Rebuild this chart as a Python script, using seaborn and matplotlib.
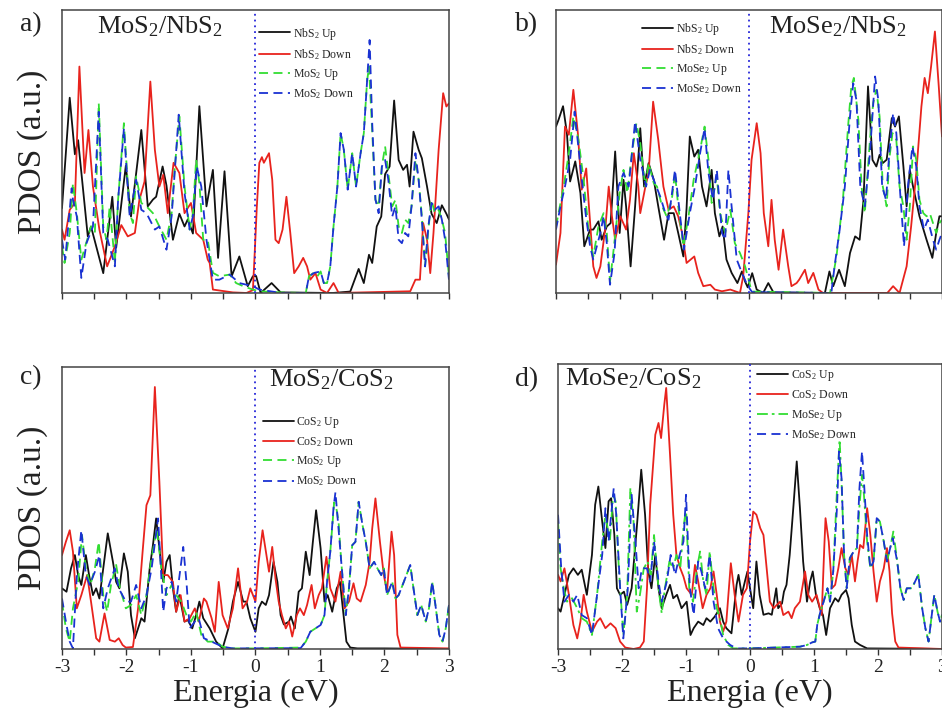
import matplotlib
matplotlib.use('Agg')
import matplotlib.pyplot as plt
import seaborn as sns
import pandas as pd

sns.set_theme(style='ticks')
plt.rcParams['font.family'] = ['Liberation Serif', 'DejaVu Serif']
plt.rcParams['mathtext.fontset'] = 'custom'
plt.rcParams['mathtext.rm'] = 'Liberation Serif'
plt.rcParams['mathtext.it'] = 'Liberation Serif:italic'
plt.rcParams['mathtext.bf'] = 'Liberation Serif:bold'
plt.rcParams['axes.unicode_minus'] = False

# ---------------- data: (energy eV, PDOS in % of panel height) ----------------
# Panel a) MoS2/NbS2
a_nbs2_up = [(-3.00, 30), (-2.88, 69), (-2.80, 49), (-2.75, 54), (-2.60, 20), (-2.55, 23.5), (-2.36, 7),
             (-2.22, 34), (-2.16, 16), (-2.01, 45), (-1.93, 27), (-1.77, 57.6), (-1.67, 30.6), (-1.59, 33),
             (-1.54, 34), (-1.44, 44.7), (-1.38, 38), (-1.28, 18.8), (-1.18, 28), (-1.10, 23.5), (-1.05, 26),
             (-0.97, 21), (-0.87, 66), (-0.76, 30.6), (-0.66, 43.5), (-0.58, 12.4), (-0.48, 43), (-0.37, 5.9),
             (-0.25, 12.9), (-0.12, 2.4), (-0.04, 5.9), (0.01, 6), (0.08, 0), (0.25, 3.5), (0.39, 0.2),
             (1.20, 0), (1.47, 0.5), (1.60, 8.5), (1.68, 3.5), (1.76, 13.5), (1.81, 10.6), (1.88, 23.5),
             (1.95, 27), (2.01, 42), (2.08, 44.7), (2.15, 68), (2.22, 47), (2.29, 43.5), (2.35, 45.3),
             (2.39, 37.6), (2.45, 57), (2.53, 50.6), (2.58, 47.6), (2.66, 37.6), (2.73, 28), (2.81, 24.7),
             (2.89, 31), (2.96, 28), (3.00, 26)]
a_nbs2_down = [(-3.00, 22.4), (-2.96, 18.8), (-2.88, 29.4), (-2.80, 31.8), (-2.73, 80), (-2.65, 42.4),
               (-2.59, 57.6), (-2.52, 37.6), (-2.42, 22.4), (-2.30, 9.4), (-2.18, 16.5), (-2.08, 24), (-1.98, 20),
               (-1.87, 21.2), (-1.80, 32.9), (-1.72, 39.4), (-1.63, 74.7), (-1.56, 50.6), (-1.49, 37.6),
               (-1.43, 41.8), (-1.36, 28.2), (-1.27, 46), (-1.18, 42.4), (-1.10, 28.2), (-1.00, 31.8),
               (-0.92, 21.2), (-0.81, 18.8), (-0.74, 11.8), (-0.71, 10.6), (-0.66, 1.2), (-0.35, 0.2),
               (-0.14, 0), (-0.04, 1), (-0.01, 15), (0.02, 30), (0.06, 46), (0.10, 48), (0.13, 46),
               (0.21, 49.4), (0.26, 40), (0.31, 18.8), (0.36, 17.6), (0.42, 22.4), (0.48, 34), (0.54, 21.2),
               (0.60, 7), (0.67, 9.4), (0.74, 12.4), (0.80, 9.4), (0.85, 4.7), (0.93, 7), (1.01, 1.2), (1.11, 0),
               (1.21, 3.5), (1.29, 0), (2.40, 0.6), (2.48, 4.7), (2.55, 4.7), (2.60, 24.7), (2.66, 18.8),
               (2.71, 7), (2.76, 21.2), (2.84, 50.6), (2.91, 70.6), (2.96, 65.9), (3.00, 67)]
a_mos2_up = [(-3.00, 16.5), (-2.96, 10.6), (-2.88, 21.2), (-2.83, 38.8), (-2.77, 28.2), (-2.70, 11.8),
             (-2.61, 18.8), (-2.55, 23.5), (-2.49, 21.2), (-2.43, 67.1), (-2.36, 23.5), (-2.31, 18.8),
             (-2.26, 30.6), (-2.18, 10.6), (-2.13, 32.9), (-2.04, 60), (-1.95, 28.2), (-1.90, 24.7),
             (-1.85, 41.2), (-1.77, 31.8), (-1.69, 30.6), (-1.59, 28.2), (-1.49, 23.5), (-1.38, 18.8),
             (-1.30, 28.2), (-1.25, 44.7), (-1.18, 62.4), (-1.10, 37.6), (-1.02, 22.4), (-0.97, 28.2),
             (-0.92, 47.1), (-0.87, 38.8), (-0.81, 18.8), (-0.74, 18.8), (-0.66, 7.1), (-0.56, 5.9),
             (-0.40, 6.5), (-0.30, 3.5), (-0.19, 2.4), (-0.04, 1.2), (0.06, 0.6), (0.40, 0.2), (0.78, 0),
             (0.83, 5.9), (0.90, 7.1), (0.96, 5.9), (1.01, 7.6), (1.06, 3.5), (1.11, 3.5), (1.16, 9.4),
             (1.21, 23.5), (1.27, 37.6), (1.32, 56.5), (1.37, 50.6), (1.43, 36.5), (1.50, 49.4), (1.56, 37.6),
             (1.63, 49.4), (1.68, 56.5), (1.73, 74.7), (1.76, 80), (1.81, 57.1), (1.86, 32.9), (1.91, 30.6),
             (1.96, 44.7), (2.01, 51.8), (2.06, 42.4), (2.12, 30.6), (2.17, 32.9), (2.22, 23.5), (2.27, 21.2),
             (2.32, 25.9), (2.37, 24.7), (2.42, 30.6), (2.48, 47.1), (2.53, 40), (2.58, 27.1), (2.63, 9.4),
             (2.68, 22.4), (2.73, 32.9), (2.78, 28.2), (2.84, 29.4), (2.89, 25.9), (2.94, 21.2), (3.00, 5.9)]
a_mos2_down = [(-3.00, 18.8), (-2.95, 11.8), (-2.85, 37), (-2.83, 33), (-2.77, 27), (-2.70, 5.3),
               (-2.62, 17.6), (-2.52, 23.5), (-2.43, 64), (-2.36, 21.2), (-2.29, 18.8), (-2.18, 9.4),
               (-2.13, 32.9), (-2.04, 58), (-1.95, 27.1), (-1.85, 40), (-1.77, 29.4), (-1.69, 28.2),
               (-1.56, 22.4), (-1.49, 23.5), (-1.38, 15.3), (-1.30, 27.1), (-1.19, 63), (-1.10, 35.3),
               (-1.02, 22.4), (-0.97, 27.1), (-0.91, 44.7), (-0.84, 37.6), (-0.76, 18.8), (-0.66, 4.7),
               (-0.56, 4.7), (-0.40, 6.5), (-0.25, 3.5), (-0.04, 2.4), (0.06, 1.2), (0.40, 0), (0.78, 0),
               (0.83, 5.9), (0.91, 7.1), (1.01, 7.6), (1.06, 3.5), (1.11, 3.5), (1.16, 9.4), (1.21, 23.5),
               (1.27, 37.6), (1.32, 56.5), (1.37, 50.6), (1.43, 36.5), (1.50, 49.4), (1.56, 37.6), (1.63, 49.4),
               (1.68, 56.5), (1.73, 74.7), (1.77, 89.4), (1.81, 60), (1.86, 33), (1.91, 28.2), (1.96, 44.7),
               (2.01, 47), (2.06, 40), (2.12, 27), (2.17, 30.6), (2.22, 18.8), (2.27, 17.6), (2.32, 21.2),
               (2.37, 20), (2.42, 30.6), (2.48, 49.4), (2.53, 40), (2.58, 25.9), (2.63, 9.4), (2.68, 23.5),
               (2.73, 31.8), (2.78, 29.4), (2.84, 30.6), (2.89, 25.9), (2.94, 18.8), (3.00, 4.7)]

# Panel b) MoSe2/NbS2
b_nbs2_up = [(-3.00, 58.8), (-2.96, 61.2), (-2.89, 66), (-2.83, 56.5), (-2.78, 39.4), (-2.70, 46.5),
             (-2.62, 35.3), (-2.56, 16.5), (-2.47, 22.4), (-2.42, 22.4), (-2.34, 25.3), (-2.29, 18.8),
             (-2.21, 23.5), (-2.15, 24.7), (-2.08, 50), (-2.01, 21.2), (-1.95, 40), (-1.91, 30.6), (-1.84, 9.4),
             (-1.77, 30.6), (-1.69, 58.2), (-1.63, 37.6), (-1.56, 45.9), (-1.48, 40), (-1.41, 30.6),
             (-1.32, 18.8), (-1.25, 28.2), (-1.17, 28.2), (-1.10, 21.2), (-1.02, 12.9), (-0.97, 30),
             (-0.92, 55.3), (-0.85, 48.2), (-0.79, 50.6), (-0.73, 37.6), (-0.66, 30.6), (-0.58, 43.5),
             (-0.53, 28.2), (-0.46, 20), (-0.41, 23.5), (-0.35, 11.8), (-0.27, 7.1), (-0.18, 3.5),
             (-0.11, 7.6), (-0.06, 4), (-0.02, 2), (0.05, 7), (0.12, 1.2), (0.22, 0), (0.30, 3.5), (0.38, 0.2),
             (1.18, 0), (1.25, 7.6), (1.31, 2.4), (1.40, 8.2), (1.49, 2.4), (1.57, 14.1), (1.65, 20),
             (1.72, 18.8), (1.78, 32.9), (1.85, 73), (1.92, 47), (1.98, 44.7), (2.03, 48.8), (2.08, 45.9),
             (2.14, 47.1), (2.19, 56.5), (2.22, 61.8), (2.27, 58.8), (2.33, 62.4), (2.40, 44.7), (2.45, 30.6),
             (2.50, 43.5), (2.55, 37.6), (2.65, 27.1), (2.76, 18.8), (2.85, 12.4), (2.91, 21.2), (2.96, 27.1),
             (3.00, 27.1)]
b_nbs2_down = [(-3.00, 10), (-2.93, 21.2), (-2.86, 58.8), (-2.80, 55.9), (-2.73, 71.8), (-2.66, 56.5),
               (-2.60, 36.5), (-2.53, 44), (-2.48, 28.2), (-2.42, 9.4), (-2.37, 5.3), (-2.31, 9.4), (-2.23, 23.5),
               (-2.18, 37.6), (-2.13, 27.1), (-2.08, 18.8), (-2.00, 27.1), (-1.91, 22.4), (-1.85, 32.9),
               (-1.79, 49.4), (-1.72, 37.6), (-1.69, 28.2), (-1.61, 37.6), (-1.56, 42.4), (-1.49, 67.6),
               (-1.41, 54.1), (-1.33, 37.6), (-1.25, 29.4), (-1.17, 30.6), (-1.10, 27.1), (-1.04, 21.2),
               (-0.97, 10.6), (-0.85, 12.9), (-0.79, 7.1), (-0.71, 2.4), (-0.60, 2.9), (-0.53, 1.2),
               (-0.42, 0.6), (-0.29, 1.2), (-0.14, 0), (-0.09, 5.9), (-0.01, 28.2), (0.04, 47.1), (0.12, 60),
               (0.18, 49.4), (0.23, 28.2), (0.30, 16.5), (0.35, 32.9), (0.40, 18.8), (0.46, 8.2), (0.53, 22.4),
               (0.61, 9.4), (0.66, 2.4), (0.74, 3.5), (0.78, 4.7), (0.87, 8.2), (0.92, 3.5), (1.00, 7.1),
               (1.08, 1.2), (1.15, 0), (2.15, 0), (2.24, 2.4), (2.34, 0), (2.45, 9.4), (2.52, 23.5), (2.60, 42.4),
               (2.68, 65.9), (2.73, 76), (2.78, 70.6), (2.83, 80), (2.89, 92.4), (2.95, 72.9), (3.00, 55.3)]
b_mose2_up = [(-3.00, 23.5), (-2.96, 28.2), (-2.88, 37.6), (-2.80, 49.4), (-2.73, 62.4), (-2.65, 54.1),
              (-2.57, 40), (-2.49, 21.2), (-2.42, 12.9), (-2.34, 23.5), (-2.26, 28.2), (-2.21, 21.2),
              (-2.16, 4.1), (-2.11, 14.1), (-2.01, 35.3), (-1.95, 43.5), (-1.89, 35.3), (-1.82, 49.4),
              (-1.75, 60), (-1.69, 52.9), (-1.61, 37.6), (-1.56, 45.9), (-1.48, 38.8), (-1.43, 37.6),
              (-1.35, 30.6), (-1.28, 27.1), (-1.20, 32.9), (-1.15, 42.4), (-1.10, 30.6), (-1.02, 16.5),
              (-0.94, 27.1), (-0.86, 40), (-0.77, 49.4), (-0.69, 58.8), (-0.63, 47.1), (-0.58, 31.8),
              (-0.50, 41.2), (-0.45, 28.2), (-0.37, 21.2), (-0.29, 29.4), (-0.22, 17.6), (-0.14, 14.1),
              (-0.06, 9.4), (0.02, 2.4), (0.05, 0.5), (1.26, 0), (1.36, 12.9), (1.46, 32.9), (1.54, 58.8),
              (1.59, 72.9), (1.63, 76), (1.70, 61.2), (1.75, 37.6), (1.80, 28.2), (1.88, 54.1), (1.93, 67.1),
              (1.98, 71.8), (2.03, 62.4), (2.08, 37.6), (2.14, 30.6), (2.18, 47.1), (2.23, 56.5), (2.29, 54.1),
              (2.34, 37.6), (2.40, 30.6), (2.45, 18.8), (2.50, 30.6), (2.55, 51.8), (2.60, 47.1), (2.65, 32.9),
              (2.71, 28.2), (2.76, 27.1), (2.81, 28.2), (2.86, 24.7), (2.91, 21.2), (2.96, 24.7), (3.00, 25.9)]
b_mose2_down = [(-3.00, 22.4), (-2.93, 30.6), (-2.86, 37.6), (-2.78, 47.1), (-2.71, 64.1), (-2.62, 44.7),
                (-2.54, 28.2), (-2.47, 16.5), (-2.42, 11.8), (-2.31, 21.2), (-2.26, 27.1), (-2.21, 17.6),
                (-2.16, 2.9), (-2.09, 14.1), (-2.03, 37.6), (-1.95, 42.4), (-1.87, 37.6), (-1.77, 60.6),
                (-1.69, 47.1), (-1.60, 37.6), (-1.54, 43.5), (-1.46, 38.8), (-1.38, 34.1), (-1.30, 28.2),
                (-1.25, 25.9), (-1.15, 43.5), (-1.07, 27.1), (-1.01, 15.3), (-0.92, 28.2), (-0.84, 37.6),
                (-0.76, 49.4), (-0.69, 58.2), (-0.63, 42.4), (-0.56, 32.9), (-0.50, 43.5), (-0.42, 21.2),
                (-0.37, 18.8), (-0.32, 43.5), (-0.27, 30.6), (-0.19, 11.8), (-0.11, 7.1), (-0.04, 3.5),
                (0.02, 1.2), (0.05, 0.3), (1.28, 0), (1.33, 9.4), (1.41, 22.4), (1.49, 37.6), (1.57, 62.4),
                (1.62, 74.1), (1.67, 68.2), (1.73, 37.6), (1.80, 30.6), (1.88, 49.4), (1.96, 76.5), (2.01, 68.2),
                (2.07, 37.6), (2.13, 32.9), (2.18, 49.4), (2.24, 63.5), (2.29, 56.5), (2.35, 35.3), (2.41, 16.5),
                (2.47, 37.6), (2.54, 51.8), (2.60, 44.7), (2.65, 30.6), (2.72, 22.4), (2.78, 25.9), (2.86, 18.8),
                (2.91, 15.3), (2.96, 18.8), (3.00, 21.2)]

# Panel c) MoS2/CoS2
c_cos2_up = [(-3.00, 21.5), (-2.93, 20.3), (-2.86, 28.6), (-2.80, 33.3), (-2.75, 26.2), (-2.70, 22.7),
             (-2.63, 33.3), (-2.58, 26.2), (-2.52, 19.1), (-2.47, 21.5), (-2.42, 17.9), (-2.36, 28.6),
             (-2.29, 41), (-2.21, 30.9), (-2.16, 23.8), (-2.11, 21.5), (-2.04, 33.9), (-1.98, 27.4), (-1.93, 12),
             (-1.87, 3.8), (-1.82, 7.3), (-1.77, 10.9), (-1.72, 9.7), (-1.64, 28.6), (-1.59, 36.8),
             (-1.54, 46.3), (-1.49, 35.7), (-1.43, 23.8), (-1.38, 30.9), (-1.33, 33.3), (-1.28, 21.5),
             (-1.23, 13.2), (-1.18, 19.1), (-1.10, 9.7), (-1.05, 10.3), (-0.98, 7.3), (-0.92, 12), (-0.87, 16.8),
             (-0.81, 10.9), (-0.71, 7.3), (-0.61, 2.6), (-0.51, 0.2), (-0.42, 7.3), (-0.35, 16.8), (-0.27, 23.8),
             (-0.19, 16.8), (-0.14, 16.8), (-0.08, 10.9), (0.00, 6.1), (0.05, 14.4), (0.10, 16.8), (0.16, 15.6),
             (0.21, 19.1), (0.28, 30.9), (0.34, 23.8), (0.39, 12), (0.44, 8.7), (0.52, 9.7), (0.55, 11.5),
             (0.61, 7.3), (0.67, 20.3), (0.72, 21.5), (0.78, 34.5), (0.84, 26.2), (0.89, 38), (0.94, 49.2),
             (1.01, 35.7), (1.07, 16.8), (1.12, 19.1), (1.19, 13.2), (1.26, 21.5), (1.31, 23.8), (1.36, 13.2),
             (1.41, 2.6), (1.47, 0.5), (1.58, 0.2), (2.00, 0.2), (3.00, 0)]
c_cos2_down = [(-3.00, 33.3), (-2.94, 38), (-2.88, 42.1), (-2.83, 34.5), (-2.77, 14.4), (-2.70, 19.1),
               (-2.61, 26.2), (-2.55, 16.8), (-2.47, 3.8), (-2.42, 2.6), (-2.34, 12.6), (-2.26, 3.2),
               (-2.18, 2.6), (-2.12, 3.8), (-2.06, 1.4), (-2.01, 0.5), (-1.90, 0.7), (-1.82, 14.4),
               (-1.75, 34.5), (-1.69, 51), (-1.63, 54.5), (-1.56, 92.9), (-1.49, 59.3), (-1.43, 26.2),
               (-1.36, 26.2), (-1.28, 23.8), (-1.23, 13.2), (-1.16, 19.1), (-1.10, 9.7), (-1.02, 10.9),
               (-0.94, 14.4), (-0.88, 9.7), (-0.80, 17.9), (-0.76, 16.8), (-0.68, 10.9), (-0.63, 6.1),
               (-0.57, 23.8), (-0.51, 12), (-0.43, 7.3), (-0.35, 14.4), (-0.27, 28.6), (-0.20, 14.4),
               (-0.13, 16.8), (-0.08, 21.5), (0.00, 16.8), (0.05, 30.9), (0.11, 42.1), (0.17, 33.3), (0.21, 27.4),
               (0.26, 36.2), (0.31, 25), (0.36, 16.8), (0.41, 12), (0.47, 7.3), (0.52, 9.7), (0.57, 4.4),
               (0.64, 12), (0.69, 14.4), (0.75, 12), (0.80, 15.6), (0.87, 22.7), (0.92, 14.4), (0.98, 19.1),
               (1.03, 21.5), (1.10, 32.7), (1.16, 21.5), (1.24, 16.8), (1.32, 27.4), (1.38, 14.4), (1.45, 16.8),
               (1.52, 23.3), (1.57, 17.9), (1.63, 16.8), (1.71, 22.7), (1.77, 30.9), (1.81, 42.7), (1.86, 53.4),
               (1.93, 38), (1.99, 26.2), (2.04, 20.3), (2.11, 41.6), (2.15, 33.3), (2.20, 5), (2.25, 0.5),
               (3.00, 0.2)]
c_mos2_up = [(-3.00, 16.8), (-2.94, 7.3), (-2.88, 2.6), (-2.83, 14.4), (-2.75, 23.8), (-2.69, 40.4),
             (-2.63, 28.6), (-2.56, 22.7), (-2.49, 28.6), (-2.43, 38), (-2.36, 19.1), (-2.30, 13.2),
             (-2.24, 22.7), (-2.16, 29.8), (-2.10, 21.5), (-2.01, 14.4), (-1.93, 15.6), (-1.85, 19.1),
             (-1.77, 12), (-1.69, 19.1), (-1.62, 30.9), (-1.53, 42.7), (-1.46, 28.6), (-1.38, 19.1),
             (-1.30, 22.7), (-1.23, 19.1), (-1.15, 16.8), (-1.07, 12), (-1.00, 9.7), (-0.92, 13.2), (-0.84, 5),
             (-0.74, 2.6), (-0.61, 2.6), (-0.51, 0.8), (-0.35, 0.2), (0.00, 0.2), (0.70, 0.5), (0.78, 2.6),
             (0.85, 6.1), (0.93, 7.3), (1.01, 8.5), (1.07, 12), (1.11, 23.8), (1.16, 34.5), (1.22, 52),
             (1.26, 49.2), (1.29, 44.6), (1.33, 30.9), (1.40, 12), (1.45, 21.5), (1.50, 36.8), (1.55, 38),
             (1.60, 52.2), (1.66, 43.9), (1.71, 38), (1.77, 28.6), (1.84, 30.9), (1.89, 28.6), (1.95, 26.2),
             (1.99, 28.6), (2.04, 19.1), (2.12, 23.8), (2.17, 17.9), (2.22, 19.1), (2.30, 23.8), (2.40, 29.8),
             (2.45, 21.5), (2.51, 12), (2.57, 15.6), (2.64, 9.7), (2.69, 14.4), (2.74, 23.8), (2.79, 15.6),
             (2.85, 5), (2.90, 2.6), (2.95, 7.3), (3.00, 15.6)]
c_mos2_down = [(-3.00, 17.9), (-2.93, 8.5), (-2.88, 2.6), (-2.83, 0.2), (-2.77, 26.2), (-2.70, 42.1),
               (-2.63, 26.2), (-2.57, 22.7), (-2.49, 27.4), (-2.42, 33.3), (-2.36, 14.4), (-2.29, 21.5),
               (-2.18, 28.6), (-2.12, 21.5), (-2.01, 16.8), (-1.93, 16.8), (-1.85, 22.7), (-1.77, 14.4),
               (-1.69, 19.1), (-1.61, 28.6), (-1.51, 46.3), (-1.43, 13.2), (-1.38, 21.5), (-1.30, 23.8),
               (-1.23, 16.8), (-1.12, 36.2), (-1.07, 23.8), (-1.02, 7.3), (-0.94, 9.7), (-0.88, 10.9),
               (-0.80, 3.8), (-0.68, 2.6), (-0.51, 0.8), (-0.35, 0.2), (0.70, 0.3), (0.78, 2.6), (0.85, 6.1),
               (0.93, 7.3), (1.01, 8.5), (1.07, 12), (1.11, 23.8), (1.16, 34.5), (1.21, 50), (1.24, 55.6),
               (1.29, 42), (1.33, 30.9), (1.40, 12), (1.45, 21.5), (1.50, 36.8), (1.55, 38), (1.60, 52.2),
               (1.66, 43.9), (1.71, 38), (1.77, 28.6), (1.84, 30.9), (1.89, 28.6), (1.95, 26.2), (1.99, 28.6),
               (2.04, 19.1), (2.12, 23.8), (2.17, 17.9), (2.22, 19.1), (2.30, 23.8), (2.40, 29.8), (2.45, 21.5),
               (2.51, 12), (2.57, 15.6), (2.64, 9.7), (2.69, 14.4), (2.74, 23.8), (2.79, 15.6), (2.85, 5),
               (2.90, 2.6), (2.95, 7.3), (3.00, 15.6)]

# Panel d) MoSe2/CoS2
d_cos2_up = [(-3.00, 14.3), (-2.96, 13.1), (-2.90, 19), (-2.83, 26), (-2.76, 28.3), (-2.69, 26), (-2.63, 27.8),
             (-2.55, 19), (-2.47, 33), (-2.42, 50.6), (-2.37, 57), (-2.31, 44.7), (-2.26, 35.4), (-2.21, 51.8),
             (-2.17, 52.9), (-2.12, 40), (-2.08, 21.3), (-2.03, 19), (-1.97, 20.1), (-1.92, 15.5), (-1.85, 21.3),
             (-1.77, 42.4), (-1.70, 62.9), (-1.64, 47.1), (-1.59, 27.2), (-1.54, 21.3), (-1.48, 33),
             (-1.43, 21.3), (-1.38, 14.3), (-1.31, 19), (-1.25, 22.5), (-1.20, 17.8), (-1.14, 19), (-1.07, 14.3),
             (-0.99, 16.6), (-0.93, 4.9), (-0.88, 7.3), (-0.81, 9.6), (-0.73, 8.4), (-0.68, 10.8), (-0.62, 9.6),
             (-0.55, 11.4), (-0.47, 14.3), (-0.42, 9.6), (-0.37, 7.3), (-0.29, 5.5), (-0.21, 22.5), (-0.18, 26),
             (-0.13, 19), (-0.08, 23.7), (-0.04, 27.2), (0.00, 21.3), (0.05, 14.3), (0.10, 30.7), (0.15, 19),
             (0.21, 12), (0.29, 12.5), (0.34, 12), (0.41, 21.3), (0.44, 14.3), (0.50, 16), (0.53, 20.1),
             (0.57, 22.5), (0.62, 33), (0.68, 50.6), (0.73, 65.8), (0.78, 49.4), (0.83, 30.7), (0.89, 16.6),
             (0.94, 23.7), (0.98, 27.2), (1.03, 19), (1.09, 14.3), (1.14, 11.9), (1.19, 4.9), (1.25, 14.3),
             (1.33, 17.8), (1.38, 16.6), (1.43, 19), (1.50, 20.7), (1.54, 17.8), (1.59, 8.4), (1.64, 2.6),
             (1.72, 1.4), (1.83, 0.2), (3.00, 0)]
d_cos2_down = [(-3.00, 26), (-2.96, 23.7), (-2.90, 28.3), (-2.83, 19), (-2.76, 8.4), (-2.70, 3.7), (-2.65, 9.6),
               (-2.60, 19), (-2.55, 13.1), (-2.47, 6.1), (-2.39, 9.6), (-2.34, 10.8), (-2.26, 7.3), (-2.18, 9),
               (-2.10, 7.3), (-2.03, 2.6), (-1.95, 0.5), (-1.82, 0), (-1.72, 0.5), (-1.66, 2.6), (-1.61, 21.3),
               (-1.56, 50.6), (-1.48, 75.2), (-1.43, 79.3), (-1.39, 74), (-1.34, 85.7), (-1.31, 91.6),
               (-1.25, 68.1), (-1.20, 47.1), (-1.15, 33), (-1.09, 28.3), (-1.04, 25.4), (-0.99, 21.3),
               (-0.91, 19), (-0.86, 29.5), (-0.81, 23.7), (-0.74, 14.3), (-0.68, 19), (-0.62, 21.3), (-0.57, 27.2),
               (-0.52, 19), (-0.47, 9.6), (-0.42, 6.1), (-0.37, 9.6), (-0.30, 30.1), (-0.24, 19), (-0.18, 9.6),
               (-0.11, 19), (-0.05, 21.3), (0.00, 37.7), (0.05, 48.2), (0.10, 47.1), (0.16, 42.4), (0.21, 40),
               (0.26, 28.3), (0.31, 16.6), (0.37, 14.3), (0.42, 15.5), (0.47, 16.6), (0.52, 11.9), (0.60, 13.1),
               (0.65, 10.8), (0.70, 14.3), (0.78, 16.6), (0.86, 27.2), (0.91, 19), (0.97, 16.6), (1.04, 19),
               (1.12, 11.9), (1.16, 35.4), (1.18, 45.9), (1.23, 37.7), (1.28, 21.3), (1.33, 22.5), (1.38, 28.3),
               (1.43, 35.4), (1.49, 28.3), (1.54, 26), (1.59, 33), (1.64, 23.7), (1.68, 30.7), (1.72, 36.5),
               (1.77, 35.4), (1.83, 49.4), (1.88, 40), (1.93, 27.2), (1.98, 16.6), (2.03, 23.7), (2.09, 28.3),
               (2.14, 35.4), (2.18, 27.2), (2.22, 12.5), (2.27, 2.6), (2.32, 0.5), (3.00, 0)]
d_mose2_up = [(-3.00, 44.7), (-2.96, 28.3), (-2.91, 21.3), (-2.86, 16.6), (-2.78, 17.8), (-2.70, 14.3),
              (-2.63, 10.8), (-2.55, 9.6), (-2.47, 4.9), (-2.39, 19), (-2.31, 37.7), (-2.26, 47.1), (-2.19, 37.7),
              (-2.14, 54.1), (-2.10, 51.8), (-2.05, 28.3), (-1.98, 4.9), (-1.92, 19), (-1.87, 56.4),
              (-1.82, 44.7), (-1.77, 13.1), (-1.72, 19), (-1.66, 28.3), (-1.60, 30.7), (-1.55, 26), (-1.50, 40),
              (-1.43, 21.3), (-1.38, 12.5), (-1.33, 21.3), (-1.26, 30.7), (-1.20, 28.3), (-1.15, 33),
              (-1.09, 28.3), (-1.04, 42.4), (-1.00, 49.4), (-0.95, 21.3), (-0.89, 16.6), (-0.83, 28.3),
              (-0.78, 34.2), (-0.73, 23.7), (-0.68, 19), (-0.63, 34.2), (-0.57, 21.3), (-0.52, 14.3),
              (-0.47, 10.8), (-0.42, 4.9), (-0.34, 1.4), (-0.26, 0.2), (0.00, 0.2), (0.78, 0.8), (0.89, 1.4),
              (0.97, 2.3), (1.02, 2.6), (1.05, 8.4), (1.10, 13.1), (1.15, 16.6), (1.21, 21.3), (1.25, 16.6),
              (1.30, 27.2), (1.36, 56.4), (1.40, 73.4), (1.43, 58.8), (1.47, 33), (1.51, 21.3), (1.56, 31.9),
              (1.62, 34.2), (1.67, 35.4), (1.71, 50), (1.75, 61.1), (1.78, 54.1), (1.83, 37.7), (1.88, 28.3),
              (1.93, 30.7), (1.98, 45.9), (2.03, 44.7), (2.09, 37.7), (2.14, 30.7), (2.19, 35.4), (2.24, 41.2),
              (2.30, 30.7), (2.35, 21.3), (2.40, 17.2), (2.45, 21.3), (2.53, 21.3), (2.58, 23.7), (2.63, 26),
              (2.69, 14.3), (2.74, 7.3), (2.79, 2.6), (2.84, 11.9), (2.88, 19), (2.93, 13.1), (2.97, 9.6),
              (3.00, 12)]
d_mose2_down = [(-3.00, 47.1), (-2.95, 28.3), (-2.90, 16.6), (-2.83, 19), (-2.76, 16.6), (-2.70, 19),
                (-2.63, 11.9), (-2.55, 10.8), (-2.47, 4.9), (-2.39, 19), (-2.31, 33), (-2.26, 49.4), (-2.21, 37.7),
                (-2.13, 56.4), (-2.09, 47.1), (-2.03, 21.3), (-1.98, 3.7), (-1.91, 21.3), (-1.85, 54.1),
                (-1.79, 37.7), (-1.74, 21.3), (-1.69, 28.3), (-1.61, 28.3), (-1.56, 23.7), (-1.50, 37.7),
                (-1.43, 23.7), (-1.38, 16.6), (-1.30, 23.7), (-1.24, 33), (-1.17, 26), (-1.10, 33), (-1.04, 37.7),
                (-1.00, 54.1), (-0.94, 21.3), (-0.88, 11.9), (-0.81, 30.7), (-0.76, 27.2), (-0.70, 21.3),
                (-0.63, 33), (-0.57, 16.6), (-0.50, 7.3), (-0.42, 3.7), (-0.31, 1.4), (-0.21, 0.2), (0.00, 0.2),
                (0.78, 0.8), (0.89, 1.4), (0.97, 2.3), (1.02, 2.6), (1.05, 8.4), (1.10, 13.1), (1.15, 16.6),
                (1.21, 21.3), (1.25, 16.6), (1.30, 27.2), (1.36, 50), (1.39, 69.3), (1.43, 60), (1.47, 33),
                (1.51, 21.3), (1.56, 31.9), (1.62, 34.2), (1.67, 35.4), (1.71, 56.4), (1.75, 69.3), (1.78, 58.8),
                (1.83, 40), (1.88, 28.3), (1.93, 30.7), (1.98, 45.9), (2.03, 44.7), (2.09, 37.7), (2.14, 30.7),
                (2.19, 35.4), (2.23, 38.9), (2.30, 30.7), (2.35, 21.3), (2.40, 17.2), (2.45, 21.3), (2.53, 21.3),
                (2.58, 23.7), (2.63, 26), (2.69, 14.3), (2.74, 7.3), (2.79, 2.6), (2.84, 11.9), (2.88, 19),
                (2.93, 13.1), (2.97, 9.6), (3.00, 12)]

x_ticks = [-3, -2, -1, 0, 1, 2, 3]
x_minor = [-2.5, -1.5, -0.5, 0.5, 1.5, 2.5]

# ---------------- styling ----------------
BLACK = '#111111'
RED = '#e8231d'
GREEN = '#33dd33'
BLUE = '#1a32d2'
DASH = (0, (5, 3))
DASHDOT = (0, (6, 2.2, 1.5, 2.2))

fig = plt.figure(figsize=(9.42, 7.13), dpi=100)
ax_a = fig.add_axes([0.0658, 0.5891, 0.4108, 0.3969])
ax_b = fig.add_axes([0.5902, 0.5891, 0.4098, 0.3969])
ax_c = fig.add_axes([0.0658, 0.0898, 0.4108, 0.3955])
ax_d = fig.add_axes([0.5924, 0.0898, 0.4076, 0.3997])


def draw(ax, pts, color, ls, label):
    df = pd.DataFrame(pts, columns=['E', 'H'])
    sns.lineplot(data=df, x='E', y='H', ax=ax, color=color, linestyle=ls,
                 linewidth=1.3, estimator=None, sort=False, label=label)


panels = [
    (ax_a, [(a_nbs2_up, BLACK, '-', r'NbS$_2$ Up'), (a_nbs2_down, RED, '-', r'NbS$_2$ Down'),
            (a_mos2_up, GREEN, DASH, r'MoS$_2$ Up'), (a_mos2_down, BLUE, DASH, r'MoS$_2$ Down')],
     r'MoS$_2$/NbS$_2$', (0.253, 0.94), (0.51, 0.945), False),
    (ax_b, [(b_nbs2_up, BLACK, '-', r'NbS$_2$ Up'), (b_nbs2_down, RED, '-', r'NbS$_2$ Down'),
            (b_mose2_up, GREEN, DASH, r'MoSe$_2$ Up'), (b_mose2_down, BLUE, DASH, r'MoSe$_2$ Down')],
     r'MoSe$_2$/NbS$_2$', (0.73, 0.94), (0.223, 0.962), False),
    (ax_c, [(c_cos2_up, BLACK, '-', r'CoS$_2$ Up'), (c_cos2_down, RED, '-', r'CoS$_2$ Down'),
            (c_mos2_up, GREEN, DASH, r'MoS$_2$ Up'), (c_mos2_down, BLUE, DASH, r'MoS$_2$ Down')],
     r'MoS$_2$/CoS$_2$', (0.695, 0.955), (0.519, 0.83), True),
    (ax_d, [(d_cos2_up, BLACK, '-', r'CoS$_2$ Up'), (d_cos2_down, RED, '-', r'CoS$_2$ Down'),
            (d_mose2_up, GREEN, DASHDOT, r'MoSe$_2$ Up'), (d_mose2_down, BLUE, DASH, r'MoSe$_2$ Down')],
     r'MoSe$_2$/CoS$_2$', (0.195, 0.95), (0.518, 0.985), True),
]

for ax, curves, title, tpos, lpos, bottom in panels:
    for pts, color, ls, label in curves:
        draw(ax, pts, color, ls, label)
    ax.axvline(0, color='#2626d9', linestyle=(0, (1, 2.2)), linewidth=1.3, zorder=5)
    ax.set_xlim(-3, 3)
    ax.set_ylim(0, 100)
    ax.set_yticks([])
    ax.set_xticks(x_ticks)
    ax.set_xticks(x_minor, minor=True)
    ax.tick_params(axis='x', which='both', direction='out', length=4, width=1, colors='#333333',
                   labelsize=14, labelcolor='#222222')
    if not bottom:
        ax.set_xticklabels([])
        ax.set_xlabel('')
    else:
        ax.set_xlabel('Energia (eV)', fontsize=23, color='#222222', labelpad=2)
    ax.set_ylabel('')
    for sp in ax.spines.values():
        sp.set_color('#444444')
        sp.set_linewidth(1.1)
    ax.text(tpos[0], tpos[1], title, transform=ax.transAxes, ha='center', va='center',
            fontsize=19, color='#222222')
    handles, labels = ax.get_legend_handles_labels()
    ax.legend(handles, labels, loc='upper left', bbox_to_anchor=lpos, frameon=False,
              fontsize=8.5, handlelength=2.6, handletextpad=0.25, labelspacing=0.45,
              borderpad=0, borderaxespad=0)

ax_a.set_ylabel('PDOS (a.u.)', fontsize=24, color='#222222', labelpad=10)
ax_c.set_ylabel('PDOS (a.u.)', fontsize=24, color='#222222', labelpad=10)

for lab, x, y in [('a)', 0.021, 0.965), ('b)', 0.547, 0.965), ('c)', 0.021, 0.47), ('d)', 0.547, 0.467)]:
    fig.text(x, y, lab, fontsize=20, ha='left', va='center', color='#222222')

fig.savefig('out.png', dpi=100)
